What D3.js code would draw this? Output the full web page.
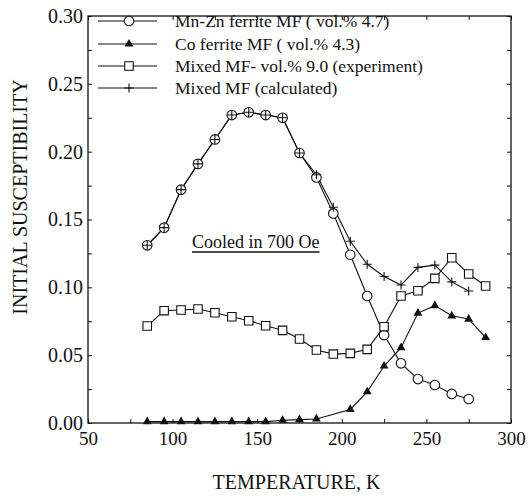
<!DOCTYPE html>
<html>
<head>
<meta charset="utf-8">
<script src="https://cdn.jsdelivr.net/npm/d3@7"></script>
<style>
  body { margin: 0; background: #fff; }
</style>
</head>
<body>
<div id="canvas"></div>
<script>
/* Configuration variables: drawing */
let svgWidth = 531;
let svgHeight = 496;
let serifFont = "'Liberation Serif', 'Times New Roman', Times, 'DejaVu Serif', serif";

/* Data: temperature (K) and initial susceptibility */
let mnZnTemp = [85, 95, 105, 115, 125, 135, 145, 155, 165, 175, 185, 195, 205, 215, 225, 235, 245, 255, 265, 275];
let mnZnChi = [0.131, 0.144, 0.172, 0.191, 0.209, 0.227, 0.229, 0.227, 0.225, 0.199, 0.181, 0.1545, 0.124, 0.0936, 0.0648, 0.044, 0.0324, 0.028, 0.0214, 0.0177];

let coTemp = [85, 95, 105, 115, 125, 135, 145, 155, 165, 175, 185, 205, 215, 225, 235, 245, 255, 265, 275, 285];
let coChi = [0.001, 0.001, 0.001, 0.001, 0.001, 0.001, 0.001, 0.001, 0.002, 0.0025, 0.003, 0.010, 0.023, 0.042, 0.0555, 0.081, 0.0865, 0.079, 0.0766, 0.063];

let mixedTemp = [85, 95, 105, 115, 125, 135, 145, 155, 165, 175, 185, 195, 205, 215, 225, 235, 245, 255, 265, 275, 285];
let mixedChi = [0.0715, 0.0828, 0.0833, 0.084, 0.0813, 0.0783, 0.0754, 0.0717, 0.0683, 0.0619, 0.0538, 0.0508, 0.0513, 0.0543, 0.071, 0.0936, 0.0975, 0.1066, 0.1218, 0.1098, 0.101];

let calcTemp = [85, 95, 105, 115, 125, 135, 145, 155, 165, 175, 185, 195, 205, 215, 225, 235, 245, 255, 265, 275];
let calcChi = [0.131, 0.144, 0.172, 0.191, 0.209, 0.227, 0.229, 0.227, 0.225, 0.199, 0.183, 0.159, 0.134, 0.117, 0.108, 0.1017, 0.1147, 0.1164, 0.104, 0.0973];

let legendLabels = [
    "Mn-Zn ferrite MF ( vol.% 4.7)",
    "Co ferrite MF ( vol.% 4.3)",
    "Mixed MF- vol.% 9.0 (experiment)",
    "Mixed MF (calculated)"
];
let xTickLabels = [50, 100, 150, 200, 250, 300];
let yTickLabels = [0, 0.05, 0.10, 0.15, 0.20, 0.25, 0.30];

/* Create drawing canvas */
let svg = d3.select("#canvas")
    .append("svg")
    .attr("width", svgWidth)
    .attr("height", svgHeight)
    .style("font-family", serifFont);

svg.append("rect")
    .attr("width", svgWidth).attr("height", svgHeight)
    .attr("fill", "white");

let xScale = d3.scaleLinear()
    .domain([50, 300])
    .range([88, 511]);

let yScale = d3.scaleLinear()
    .domain([0, 0.30])
    .range([423, 16]);

const plotLeft = xScale.range()[0], plotRight = xScale.range()[1];
const plotBottom = yScale.range()[0], plotTop = yScale.range()[1];

/* Minor ticks (inward, all four sides) */
let xMinor = d3.range(50, 301, 25);
let yMinor = d3.range(0, 0.3001, 0.025);

function axisStyle(g) {
    g.select(".domain").remove();
    g.attr("font-family", serifFont);
    g.selectAll(".tick line").attr("stroke", "#111").attr("stroke-width", 1);
    g.selectAll(".tick text").attr("fill", "#111").style("font-family", serifFont);
}

svg.append("g")
    .attr("transform", `translate(0,${plotBottom})`)
    .call(d3.axisBottom(xScale).tickValues(xMinor).tickSize(-4).tickFormat(""))
    .call(axisStyle);
svg.append("g")
    .attr("transform", `translate(0,${plotTop})`)
    .call(d3.axisTop(xScale).tickValues(xMinor).tickSize(-4).tickFormat(""))
    .call(axisStyle);
svg.append("g")
    .attr("transform", `translate(${plotLeft},0)`)
    .call(d3.axisLeft(yScale).tickValues(yMinor).tickSize(-4).tickFormat(""))
    .call(axisStyle);
svg.append("g")
    .attr("transform", `translate(${plotRight},0)`)
    .call(d3.axisRight(yScale).tickValues(yMinor).tickSize(-4).tickFormat(""))
    .call(axisStyle);

/* Tick labels */
let xAxis = svg.append("g")
    .attr("transform", `translate(0,${plotBottom})`)
    .call(d3.axisBottom(xScale).tickValues(xTickLabels).tickSize(0).tickPadding(9).tickFormat(d3.format("d")))
    .call(axisStyle);
xAxis.selectAll("text").style("font-size", "19px");

let yAxis = svg.append("g")
    .attr("transform", `translate(${plotLeft},0)`)
    .call(d3.axisLeft(yScale).tickValues(yTickLabels).tickSize(0).tickPadding(5).tickFormat(d3.format(".2f")))
    .call(axisStyle);
yAxis.selectAll("text").style("font-size", "20px");

/* Frame */
svg.append("rect")
    .attr("x", plotLeft).attr("y", plotTop)
    .attr("width", plotRight - plotLeft).attr("height", plotBottom - plotTop)
    .attr("fill", "none")
    .attr("stroke", "#111")
    .attr("stroke-width", 1.3);

/* Axis titles */
svg.append("text")
    .attr("x", (plotLeft + plotRight) / 2 - 3)
    .attr("y", 489)
    .attr("text-anchor", "middle")
    .attr("fill", "#111")
    .style("font-family", serifFont)
    .style("font-size", "20px")
    .text("TEMPERATURE, K");

svg.append("text")
    .attr("transform", "translate(27,197) rotate(-90)")
    .attr("text-anchor", "middle")
    .attr("fill", "#111")
    .style("font-family", serifFont)
    .style("font-size", "20px")
    .text("INITIAL SUSCEPTIBILITY");

/* Series */
let series = [
    { t: mnZnTemp, v: mnZnChi, mark: "circle" },
    { t: coTemp, v: coChi, mark: "triangle" },
    { t: mixedTemp, v: mixedChi, mark: "square" },
    { t: calcTemp, v: calcChi, mark: "plus" }
];

let line = d3.line()
    .x(d => xScale(d[0]))
    .y(d => yScale(d[1]));

let triangle = d3.symbol().type(d3.symbolTriangle).size(34);
let square = d3.symbol().type(d3.symbolSquare).size(72);
let plusPath = "M-4.5,0H4.5M0,-4.5V4.5";

function drawMark(g, kind, x, y) {
    if (kind == "circle") {
        g.append("circle")
            .attr("cx", x).attr("cy", y).attr("r", 4.8)
            .attr("fill", "white").attr("stroke", "#111").attr("stroke-width", 1.1);
    } else if (kind == "triangle") {
        g.append("path")
            .attr("d", triangle)
            .attr("transform", `translate(${x},${y})`)
            .attr("fill", "#111");
    } else if (kind == "square") {
        g.append("path")
            .attr("d", square)
            .attr("transform", `translate(${x},${y})`)
            .attr("fill", "white").attr("stroke", "#111").attr("stroke-width", 1.1);
    } else {
        g.append("path")
            .attr("d", plusPath)
            .attr("transform", `translate(${x},${y})`)
            .attr("fill", "none").attr("stroke", "#111").attr("stroke-width", 1.1);
    }
}

// lines first, markers on top (plus drawn last so it sits inside the circles)
series.forEach(function(s) {
    let pts = s.t.map((t, i) => [t, s.v[i]]);
    svg.append("path")
        .datum(pts)
        .attr("d", line)
        .attr("fill", "none")
        .attr("stroke", "#111")
        .attr("stroke-width", 1.1);
});
series.forEach(function(s) {
    let g = svg.append("g");
    s.t.forEach(function(t, i) {
        drawMark(g, s.mark, xScale(t), yScale(s.v[i]));
    });
});

/* Legend */
let legendY = [21, 44, 66, 88];
legendLabels.forEach(function(label, i) {
    let g = svg.append("g");
    g.append("line")
        .attr("x1", 98).attr("x2", 157)
        .attr("y1", legendY[i]).attr("y2", legendY[i])
        .attr("stroke", "#111").attr("stroke-width", 1.1);
    drawMark(g, series[i].mark, 129, legendY[i]);
    g.append("text")
        .attr("x", 175)
        .attr("y", legendY[i])
        .attr("dy", "0.35em")
        .attr("fill", "#111")
        .style("font-family", serifFont)
        .style("font-size", "17.5px")
        .text(label);
});

/* Annotation */
let note = svg.append("text")
    .attr("x", 192)
    .attr("y", 248)
    .attr("fill", "#111")
    .style("font-family", serifFont)
    .style("font-size", "18px")
    .text("Cooled in 700 Oe");
let noteLen = note.node().getComputedTextLength();
svg.append("line")
    .attr("x1", 192).attr("x2", 192 + noteLen)
    .attr("y1", 252).attr("y2", 252)
    .attr("stroke", "#111").attr("stroke-width", 1.5);
</script>
</body>
</html>
